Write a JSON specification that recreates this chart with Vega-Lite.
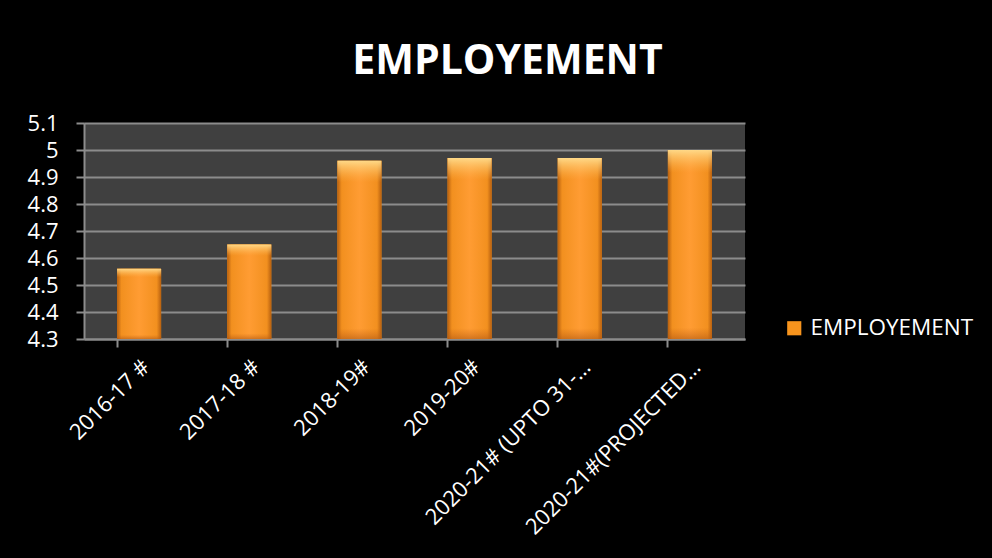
{
  "$schema": "https://vega.github.io/schema/vega-lite/v6.json",
  "width": 661,
  "height": 216,
  "autosize": {"type": "none"},
  "padding": {"left": 84, "top": 123, "right": 247, "bottom": 219},
  "background": "#000000",
  "title": {
    "text": "EMPLOYEMENT",
    "anchor": "middle",
    "dx": 93,
    "offset": 29,
    "font": "Open Sans",
    "fontSize": 41,
    "fontWeight": "bold",
    "color": "#ffffff"
  },
  "config": {
    "view": {"fill": "#404040", "stroke": null},
    "font": "Open Sans"
  },
  "resolve": {"axis": {"x": "independent"}},
  "data": {
    "values": [
      {"year": "2016-17 #", "value": 4.56, "series": "EMPLOYEMENT"},
      {"year": "2017-18 #", "value": 4.65, "series": "EMPLOYEMENT"},
      {"year": "2018-19#", "value": 4.96, "series": "EMPLOYEMENT"},
      {"year": "2019-20#", "value": 4.97, "series": "EMPLOYEMENT"},
      {"year": "2020-21# (UPTO 31-…", "value": 4.97, "series": "EMPLOYEMENT"},
      {"year": "2020-21#(PROJECTED…", "value": 5.0, "series": "EMPLOYEMENT"}
    ]
  },
  "encoding": {
    "y": {
      "field": "value",
      "type": "quantitative",
      "scale": {"domain": [4.3, 5.1], "zero": false, "nice": false},
      "axis": {
        "title": null,
        "values": [4.3, 4.4, 4.5, 4.6, 4.7, 4.8, 4.9, 5.0, 5.1],
        "format": "~g",
        "labelColor": "#ffffff",
        "labelFontSize": 22,
        "labelPadding": 18,
        "tickColor": "#8c8c8c",
        "tickSize": 8,
        "tickWidth": 2,
        "domainColor": "#8c8c8c",
        "domainWidth": 2,
        "grid": true,
        "gridColor": "#8c8c8c",
        "gridWidth": 2
      }
    },
    "y2": {"datum": 4.3}
  },
  "layer": [
    {
      "mark": {"type": "bar"},
      "encoding": {
        "x": {
          "field": "year",
          "type": "nominal",
          "sort": null,
          "scale": {"paddingInner": 0.6, "paddingOuter": 0.3},
          "axis": {
            "title": null,
            "labelAngle": -45,
            "labelColor": "#ffffff",
            "labelFontSize": 22,
            "labelPadding": 17,
            "labelLimit": 400,
            "ticks": false,
            "domainColor": "#8c8c8c",
            "domainWidth": 2,
            "grid": false
          }
        },
        "color": {
          "field": "series",
          "type": "nominal",
          "scale": {"range": ["#F7941D"]},
          "legend": {
            "title": null,
            "orient": "none",
            "legendX": 699,
            "legendY": 194,
            "symbolType": "square",
            "symbolSize": 200,
            "symbolStrokeWidth": 0,
            "labelColor": "#ffffff",
            "labelFontSize": 22.5,
            "labelLimit": 400,
            "labelOffset": 5
          }
        }
      }
    },
    {
      "mark": {
        "type": "bar",
        "fill": {
          "gradient": "linear",
          "x1": 0, "y1": 0, "x2": 1, "y2": 0,
          "stops": [
            {"offset": 0, "color": "#b8600f"},
            {"offset": 0.1, "color": "#f2901f"},
            {"offset": 0.5, "color": "#ff9c33"},
            {"offset": 0.9, "color": "#f2901f"},
            {"offset": 1, "color": "#b8600f"}
          ]
        }
      },
      "encoding": {"x": {"field": "year", "type": "nominal", "sort": null, "axis": null}}
    },
    {
      "mark": {
        "type": "bar",
        "fill": {
          "gradient": "linear",
          "x1": 0, "y1": 0, "x2": 0, "y2": 1,
          "stops": [
            {"offset": 0, "color": "rgba(255,220,140,0.95)"},
            {"offset": 0.06, "color": "rgba(255,200,110,0.5)"},
            {"offset": 0.12, "color": "rgba(255,180,80,0)"},
            {"offset": 0.94, "color": "rgba(200,100,20,0)"},
            {"offset": 1, "color": "rgba(180,90,20,0.6)"}
          ]
        }
      },
      "encoding": {"x": {"field": "year", "type": "nominal", "sort": null, "axis": null}}
    },
    {
      "mark": {"type": "tick", "opacity": 0},
      "encoding": {
        "x": {
          "field": "year",
          "type": "nominal",
          "sort": null,
          "axis": {
            "orient": "top",
            "offset": -216,
            "labels": false,
            "domain": false,
            "title": null,
            "ticks": true,
            "bandPosition": 0,
            "tickColor": "#8c8c8c",
            "tickSize": -8,
            "tickWidth": 2,
            "grid": false
          }
        },
        "y2": null
      }
    }
  ]
}
